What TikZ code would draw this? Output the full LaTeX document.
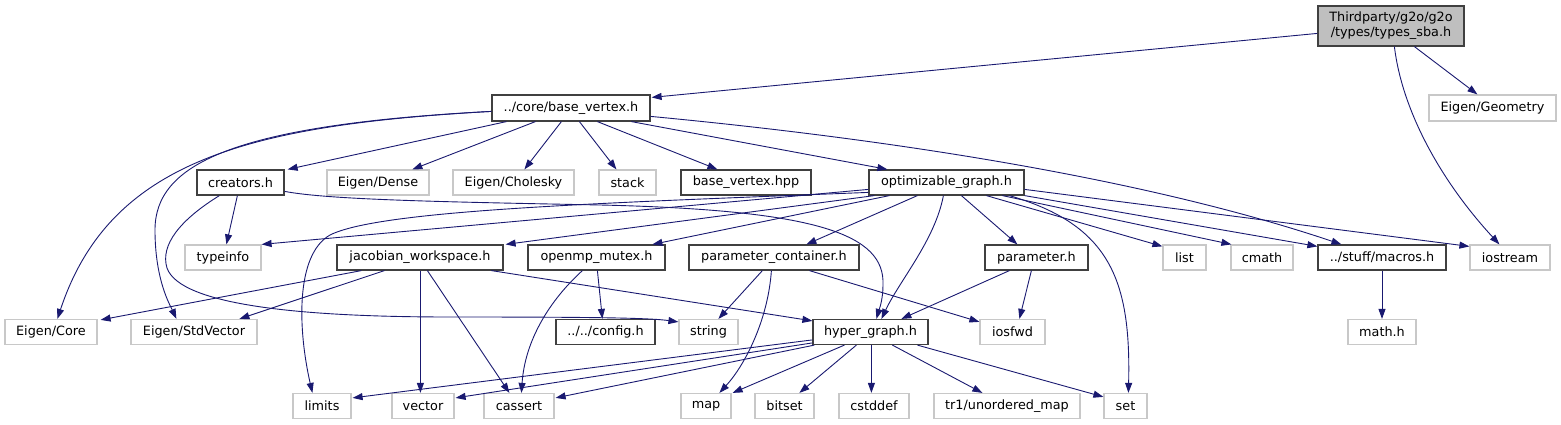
\documentclass[tikz,border=0pt]{standalone}
\usepackage{fontspec}
\newfontfamily\dvs{DejaVu Sans}
\usetikzlibrary{arrows.meta,calc}
\definecolor{edgeblue}{HTML}{191970}
\definecolor{docborder}{HTML}{404040}
\definecolor{extborder}{HTML}{C8C8C8}
\definecolor{rootfill}{HTML}{BFBFBF}
\tikzset{
  box/.style={draw=docborder, line width=1.2pt, minimum height=25pt, inner sep=0pt, anchor=center,
    font=\dvs\fontsize{12.8pt}{15pt}\selectfont, align=center},
  ext/.style={box, draw=extborder},
  rootbox/.style={box, fill=rootfill, minimum height=40pt},
  e/.style={draw=edgeblue, line width=0.9pt, -{Triangle[length=10pt,width=7pt]}}
}
\begin{document}
\begin{tikzpicture}[x=1pt,y=-1pt]
\useasboundingbox (0,0) rectangle (1561,425);
% row 0
\node[rootbox, minimum width=146pt] (root) at (1391,26) {Thirdparty/g2o/g2o\\/types/types\_sba.h};
% row 1
\node[box, minimum width=158pt, minimum height=26pt] (bv) at (571,108) {../core/base\_vertex.h};
\node[ext, minimum width=127pt, minimum height=26pt] (geom) at (1492.5,108) {Eigen/Geometry};
% row 2
\node[box, minimum width=87pt] (creators) at (240.5,182.5) {creators.h};
\node[ext, minimum width=102pt] (dense) at (378,182.5) {Eigen/Dense};
\node[ext, minimum width=121pt] (chol) at (513.5,182.5) {Eigen/Cholesky};
\node[ext, minimum width=57pt] (stack) at (627.5,182.5) {stack};
\node[box, minimum width=130pt] (bvhpp) at (746,182.5) {base\_vertex.hpp};
\node[box, minimum width=155pt] (opt) at (946.5,182.5) {optimizable\_graph.h};
% row 3
\node[ext, minimum width=76pt] (typeinfo) at (223,257.5) {typeinfo};
\node[box, minimum width=166pt] (jac) at (420,257.5) {jacobian\_workspace.h};
\node[box, minimum width=137pt] (openmp) at (596.5,257.5) {openmp\_mutex.h};
\node[box, minimum width=170pt] (pcont) at (774,257.5) {parameter\_container.h};
\node[box, minimum width=103pt] (param) at (1036.5,257.5) {parameter.h};
\node[ext, minimum width=43pt] (list) at (1184.5,257.5) {list};
\node[ext, minimum width=62pt] (cmath) at (1262,257.5) {cmath};
\node[box, minimum width=128pt] (macros) at (1382,257.5) {../stuff/macros.h};
\node[ext, minimum width=80pt] (iostream) at (1510,257.5) {iostream};
% row 4
\node[ext, minimum width=92pt] (core) at (51,332) {Eigen/Core};
\node[ext, minimum width=126pt] (stdvec) at (194,332) {Eigen/StdVector};
\node[box, minimum width=99pt] (config) at (605.5,332) {../../config.h};
\node[ext, minimum width=59pt] (string) at (708.5,332) {string};
\node[box, minimum width=115pt] (hyper) at (870.5,332) {hyper\_graph.h};
\node[ext, minimum width=65pt] (iosfwd) at (1012.5,332) {iosfwd};
\node[ext, minimum width=68pt] (mathh) at (1382,332) {math.h};
% row 5
\node[ext, minimum width=58pt] (limits) at (322,406) {limits};
\node[ext, minimum width=62pt] (vector) at (423,406) {vector};
\node[ext, minimum width=70pt] (cassert) at (519,406) {cassert};
\node[ext, minimum width=50pt] (map) at (706,406) {map};
\node[ext, minimum width=59pt] (bitset) at (784.5,406) {bitset};
\node[ext, minimum width=70pt] (cstddef) at (874,406) {cstddef};
\node[ext, minimum width=146pt] (tr1) at (1007,406) {tr1/unordered\_map};
\node[ext, minimum width=43pt] (set) at (1125.5,406) {set};
% edges from root
\draw[e] ($(root.north west)+(0,28)$) -- ($(bv.north east)+(1,3)$);
\draw[e] ($(root.south west)+(97,0)$) -- ($(geom.north west)+(49,0)$);
\draw[e] ($(root.south west)+(77,0)$) .. controls (1402,110) and (1440,180) .. ($(iostream.north west)+(30,0)$);
% edges from base_vertex.h
\draw[e] ($(bv.north west)+(0,17)$) .. controls (250,125) and (110,160) .. ($(core.north west)+(53,0)$);
\draw[e] ($(bv.north west)+(0,17)$) .. controls (230,125) and (155,165) .. (155,230) .. controls (155,280) and (170,305) .. ($(stdvec.north west)+(46,0)$);
\draw[e] ($(bv.south west)+(15,0)$) -- ($(creators.north east)+(3,0)$);
\draw[e] ($(bv.south west)+(44,0)$) -- ($(dense.north west)+(86,0)$);
\draw[e] ($(bv.south west)+(70,0)$) -- ($(chol.north west)+(72,0)$);
\draw[e] ($(bv.south west)+(88,0)$) -- ($(stack.north west)+(18,0)$);
\draw[e] ($(bv.south west)+(106,0)$) -- ($(bvhpp.north west)+(37,0)$);
\draw[e] ($(bv.south west)+(140,0)$) -- ($(opt.north west)+(19,0)$);
\draw[e] ($(bv.north east)+(0,22)$) .. controls (900,140) and (1150,180) .. ($(macros.north west)+(24,0)$);
% edges from creators.h
\draw[e] ($(creators.south west)+(41,0)$) -- ($(typeinfo.north west)+(42,0)$);
\draw[e] ($(creators.south west)+(23,0)$) .. controls (180,220) and (160,245) .. (167,268) .. controls (180,305) and (300,317) .. (450,317) .. controls (600,317) and (650,318) .. ($(string.north west)+(0,3)$);
\draw[e] ($(creators.north east)+(0,22)$) .. controls (330,200) and (450,202) .. (600,205) .. controls (820,210) and (885,235) .. (883,285) .. controls (883,300) and (879,310) .. ($(hyper.north west)+(64,0)$);
% edges from optimizable_graph.h
\draw[e] ($(opt.north west)+(0,20)$) -- (typeinfo.north east);
\draw[e] ($(opt.north west)+(0,23)$) .. controls (600,203) and (380,210) .. (330,235) .. controls (295,255) and (298,330) .. ($(limits.north west)+(20,0)$);
\draw[e] ($(opt.south west)+(6,0)$) -- ($(jac.north east)+(2,0)$);
\draw[e] ($(opt.south west)+(21,0)$) -- ($(openmp.north west)+(125,0)$);
\draw[e] ($(opt.south west)+(49,0)$) -- ($(pcont.north west)+(118,0)$);
\draw[e] ($(opt.south west)+(75,0)$) .. controls (935,240) and (900,280) .. ($(hyper.north west)+(69,0)$);
\draw[e] ($(opt.south west)+(93,0)$) -- ($(param.north west)+(33,0)$);
\draw[e] ($(opt.south west)+(141,0)$) .. controls (1110,225) and (1131,280) .. ($(set.north west)+(25,0)$);
\draw[e] ($(opt.south west)+(118,0)$) -- ($(list.north west)+(0,2)$);
\draw[e] ($(opt.south west)+(134,0)$) -- ($(cmath.north west)+(1,0)$);
\draw[e] (opt.south east) -- ($(macros.north west)+(0,2)$);
\draw[e] ($(opt.north east)+(0,20)$) -- ($(iostream.north west)+(0,2)$);
% edges from jacobian_workspace.h
\draw[e] ($(jac.south west)+(25,0)$) -- ($(core.north east)+(3,1)$);
\draw[e] ($(jac.south west)+(48,0)$) -- ($(stdvec.north west)+(109,0)$);
\draw[e] ($(jac.south west)+(84,0)$) -- ($(vector.north west)+(29,0)$);
\draw[e] ($(jac.south west)+(91,0)$) -- ($(cassert.north west)+(26,0)$);
\draw[e] ($(jac.south west)+(155,0)$) -- ($(hyper.north west)+(0,2)$);
% edges from openmp_mutex.h
\draw[e] ($(openmp.south west)+(55,0)$) .. controls (550,300) and (525,340) .. ($(cassert.north west)+(38,0)$);
\draw[e] ($(openmp.south west)+(70,0)$) -- ($(config.north west)+(47,0)$);
% edges from parameter_container.h
\draw[e] ($(pcont.south west)+(74,0)$) -- ($(string.north west)+(40,0)$);
\draw[e] ($(pcont.south west)+(83,0)$) .. controls (768,320) and (745,365) .. ($(map.north west)+(39,0)$);
\draw[e] ($(pcont.south west)+(121,0)$) -- ($(iosfwd.north west)+(0,3)$);
% edges from parameter.h
\draw[e] ($(param.south west)+(25,0)$) -- ($(hyper.north west)+(89,0)$);
\draw[e] ($(param.south west)+(47,0)$) -- ($(iosfwd.north west)+(40,0)$);
% edges from hyper_graph.h
\draw[e] ($(hyper.north west)+(0,21)$) -- ($(limits.north east)+(1,5)$);
\draw[e] ($(hyper.north west)+(0,24)$) -- ($(vector.north east)+(1,5)$);
\draw[e] ($(hyper.south west)+(2,0)$) -- ($(cassert.north east)+(1,5)$);
\draw[e] ($(hyper.south west)+(32,0)$) -- ($(map.north east)+(1,0)$);
\draw[e] ($(hyper.south west)+(44,0)$) -- ($(bitset.north west)+(45,0)$);
\draw[e] ($(hyper.south west)+(59,0)$) -- ($(cstddef.north west)+(33,0)$);
\draw[e] ($(hyper.south west)+(80,0)$) -- ($(tr1.north west)+(49,0)$);
\draw[e] ($(hyper.south west)+(105,0)$) -- ($(set.north west)+(0,4)$);
% macros.h
\draw[e] (macros.south) -- (mathh.north);
\end{tikzpicture}
\end{document}
